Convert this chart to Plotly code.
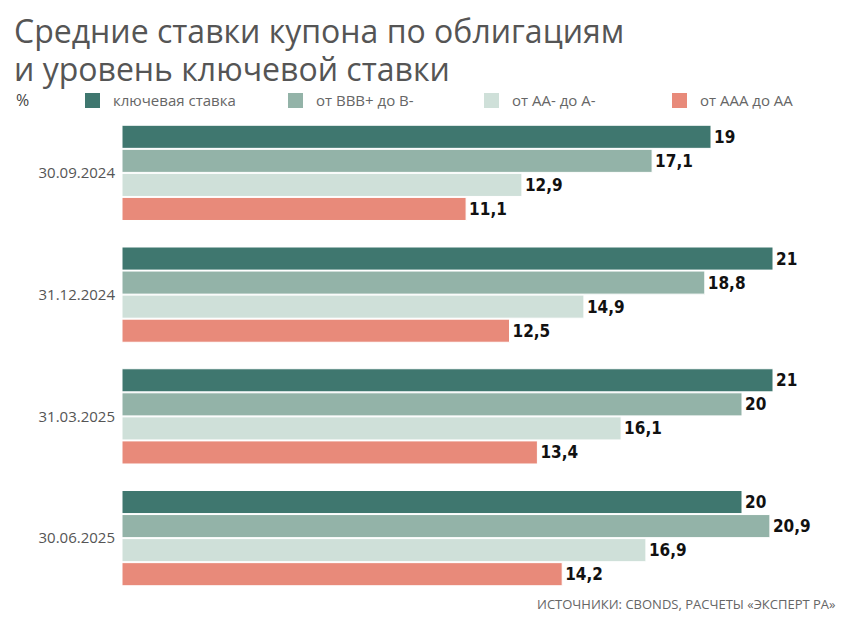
import plotly.graph_objects as go

dates = ["30.09.2024", "31.12.2024", "31.03.2025", "30.06.2025"]
series_names = ["ключевая ставка", "от BBB+ до B-", "от AA- до A-", "от AAA до AA"]
key_rate = [19, 21, 21, 20]
bbb_b = [17.1, 18.8, 20, 20.9]
aa_a = [12.9, 14.9, 16.1, 16.9]
aaa_aa = [11.1, 12.5, 13.4, 14.2]
colors = ["#3f776f", "#93b3a8", "#cfe0d9", "#e88a7a"]

OFF = 8
L, T, W, H = 122 - OFF, 112 - OFF, 713, 487
FH = 617
def px(x): return (x - OFF - L) / W
def py(y): return (T + H - (y - OFF)) / H

fig = go.Figure()
for name, vals, c in zip(series_names, [key_rate, bbb_b, aa_a, aaa_aa], colors):
    fig.add_trace(go.Bar(
        y=dates, x=vals, name=name, orientation="h", showlegend=False,
        marker=dict(color=c, line=dict(color="white", width=1)),
        text=[str(v).replace(".", ",") for v in vals],
        textposition="outside", cliponaxis=False,
        textfont=dict(family="DejaVu Sans Condensed", size=17, color="#111", weight="bold"),
    ))

legend_box_x = [85, 288, 484, 672]
shapes, annots = [], []
for name, c, bx in zip(series_names, colors, legend_box_x):
    shapes.append(dict(type="rect", xref="paper", yref="paper",
                       x0=px(bx), x1=px(bx + 15), y0=py(108), y1=py(93),
                       fillcolor=c, line=dict(width=0)))
    annots.append(dict(text=name, xref="paper", yref="paper", x=px(bx + 26), y=py(100),
                       xanchor="left", yanchor="middle", showarrow=False,
                       font=dict(size=15, color="#666")))

annots += [
    dict(text="Средние ставки купона по облигациям", xref="paper", yref="paper",
         x=px(12), y=py(30), xanchor="left", yanchor="middle", showarrow=False,
         font=dict(family="Open Sans", size=32, color="#555")),
    dict(text="и уровень ключевой ставки", xref="paper", yref="paper",
         x=px(12), y=py(68), xanchor="left", yanchor="middle", showarrow=False,
         font=dict(family="Open Sans", size=32, color="#555")),
    dict(text="%", xref="paper", yref="paper", x=px(14), y=py(100), xanchor="left",
         yanchor="middle", showarrow=False, font=dict(size=16, color="#444")),
    dict(text="ИСТОЧНИКИ: CBONDS, РАСЧЕТЫ «ЭКСПЕРТ РА»", xref="paper", yref="paper",
         x=px(838), y=py(604), xanchor="right", yanchor="middle", showarrow=False,
         font=dict(size=13, color="#666")),
]

fig.update_layout(
    width=849, height=FH, paper_bgcolor="white", plot_bgcolor="white",
    margin=dict(l=L, r=849 - L - W, t=T, b=FH - T - H, autoexpand=False),
    barmode="group", bargap=0.21, bargroupgap=0.04,
    font=dict(family="Open Sans", color="#555"),
    xaxis=dict(range=[0, 23], visible=False),
    yaxis=dict(autorange="reversed", showline=False, ticks="", showgrid=False, automargin=False,
               tickfont=dict(size=15, color="#555", family="Open Sans"), ticklabelstandoff=6),
    shapes=shapes, annotations=annots,
)
fig.write_html("out.html")
